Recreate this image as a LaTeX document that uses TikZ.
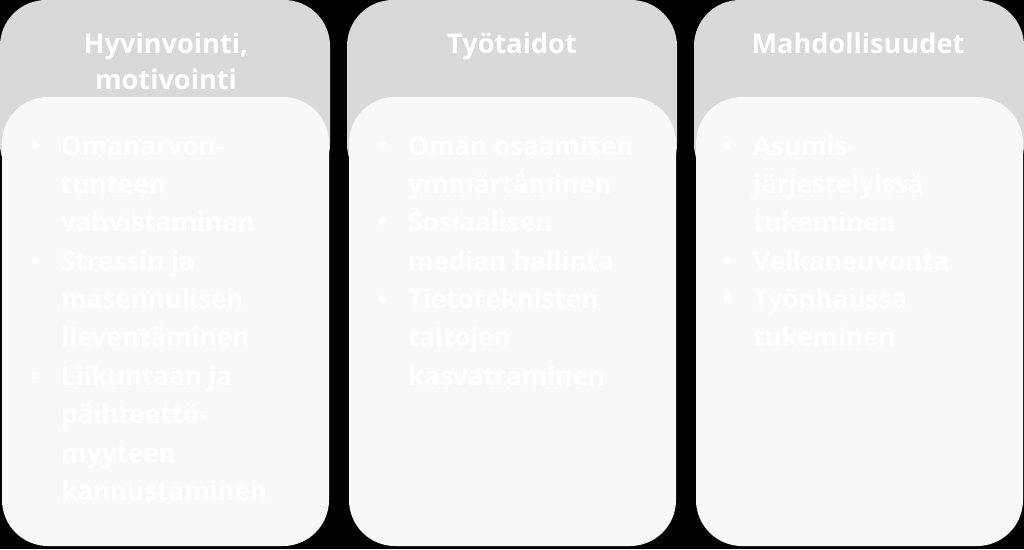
\documentclass[tikz,border=0pt]{standalone}
\usepackage{fontspec}
\setmainfont{Open Sans}
\definecolor{headgrey}{HTML}{D9D9D9}
\definecolor{panelgrey}{HTML}{F8F8F8}
\tikzset{
  headbox/.style={fill=headgrey, rounded corners=1.15cm},
  panelbox/.style={fill=panelgrey, rounded corners=1.15cm},
  headtext/.style={text=white, anchor=base, inner sep=0pt,
    font=\fontsize{19.3}{26.2}\selectfont\bfseries},
  itemtext/.style={text=white, anchor=base west, inner sep=0pt,
    font=\fontsize{18.5}{27.3}\selectfont\bfseries}
}
\newcommand{\itemrow}{\begin{tabular}[t]{@{}p{22.0pt}@{}l@{}}}
\begin{document}
\begin{tikzpicture}[x=0.025cm,y=-0.025cm]
     	\useasboundingbox (0,0) rectangle (1024,549);
     	\fill[black] (0,0) rectangle (1024,549);
     	
     	\fill[headbox] (0,0) rectangle (330,190);
     	\fill[panelbox] (2,97) rectangle (329,546);
     	\node[headtext] (h1) at (166,53)
     	{\begin{tabular}[t]{@{}c@{}}Hyvinvointi,\\motivointi\end{tabular}};
     	\node[itemtext] (b1) at (30,155) {\itemrow
     		\textbullet & Omanarvon-\\ & tunteen\\ & vahvistaminen\\
     		\textbullet & Stressin ja\\ & masennuksen\\ & lieventäminen\\
     		\textbullet & Liikuntaan ja\\ & päihteettö-\\ & myyteen\\ & kannustaminen
     		\end{tabular}};
     	
     	\fill[headbox] (347,0) rectangle (677,190);
     	\fill[panelbox] (349,97) rectangle (676,546);
     	\node[headtext] (h2) at (512,53) {Työtaidot};
     	\node[itemtext] (b2) at (377,155) {\itemrow
     		\textbullet & Oman osaamisen\\ & ymmärtäminen\\
     		\textbullet & Sosiaalisen\\ & median hallinta\\
     		\textbullet & Tietoteknisten\\ & taitojen\\ & kasvattaminen
     		\end{tabular}};
     	
     	\fill[headbox] (694,0) rectangle (1024,190);
     	\fill[panelbox] (696,97) rectangle (1023,546);
     	\node[headtext] (h3) at (858,53) {Mahdollisuudet};
     	\node[itemtext] (b3) at (722,155) {\itemrow
     		\textbullet & Asumis-\\ & järjestelyissä\\ & tukeminen\\
     		\textbullet & Velkaneuvonta\\
     		\textbullet & Työnhaussa\\ & tukeminen
     		\end{tabular}};
\end{tikzpicture}
\end{document}
